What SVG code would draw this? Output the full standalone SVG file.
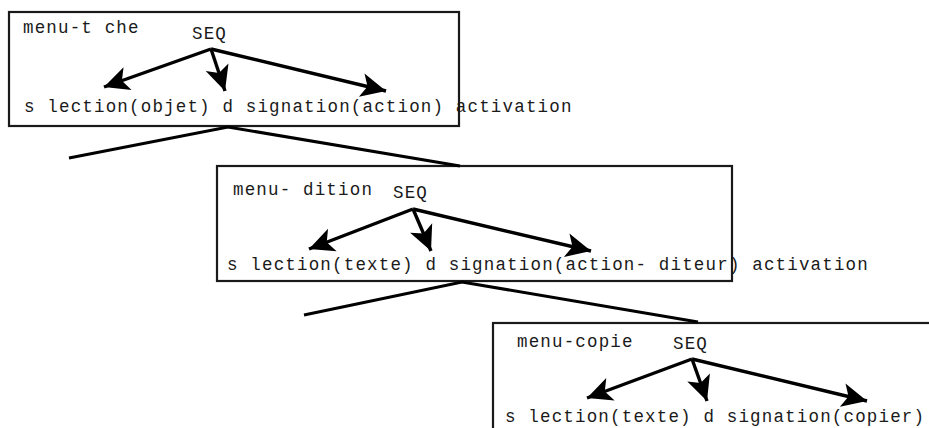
<svg xmlns="http://www.w3.org/2000/svg" width="929" height="428" viewBox="0 0 929 428">
  <defs>
    <marker id="head" markerUnits="userSpaceOnUse" markerWidth="32" markerHeight="32" viewBox="-28 -14 32 28" refX="0" refY="0" orient="auto">
      <path d="M0,0 L-25,-12 L-19,0 L-25,12 Z" fill="#000"/>
    </marker>
  </defs>
  <style>
    .box { fill: #fff; stroke: #1a1a1a; stroke-width: 2.2; }
    .t { font-family: "Liberation Mono", "Courier New", monospace; font-size: 17.5px; letter-spacing: 1.17px; fill: #1a1a1a; }
    .arr { stroke: #000; stroke-width: 3.4; fill: none; marker-end: url(#head); }
    .link { stroke: #000; stroke-width: 3; fill: none; }
  </style>
  <rect width="929" height="428" fill="#fff"/>

  <!-- menu-tâche -->
  <g id="menu-tache">
    <rect class="box" x="9" y="12" width="450" height="114"/>
    <text class="t" x="23" y="33">menu-t che</text>
    <text class="t" x="192" y="39">SEQ</text>
    <line class="arr" x1="211" y1="49" x2="104" y2="87"/>
    <line class="arr" x1="211" y1="49" x2="225" y2="91"/>
    <line class="arr" x1="211" y1="49" x2="386" y2="91"/>
    <text class="t" x="24" y="112">s lection(objet) d signation(action) activation</text>
  </g>

  <!-- menu-édition -->
  <g id="menu-edition">
    <rect class="box" x="217" y="166" width="515" height="115"/>
    <text class="t" x="233" y="195">menu- dition</text>
    <text class="t" x="393" y="198">SEQ</text>
    <line class="arr" x1="413" y1="209" x2="309" y2="249"/>
    <line class="arr" x1="413" y1="209" x2="431" y2="251"/>
    <line class="arr" x1="413" y1="209" x2="591" y2="251"/>
    <text class="t" x="227" y="270">s lection(texte) d signation(action- diteur) activation</text>
  </g>

  <!-- menu-copie -->
  <g id="menu-copie">
    <rect class="box" x="493" y="323" width="460" height="130"/>
    <text class="t" x="517" y="347">menu-copie</text>
    <text class="t" x="673" y="349">SEQ</text>
    <line class="arr" x1="692" y1="359" x2="587" y2="398"/>
    <line class="arr" x1="692" y1="359" x2="707" y2="401"/>
    <line class="arr" x1="692" y1="359" x2="867" y2="401"/>
    <text class="t" x="505" y="422">s lection(texte) d signation(copier)</text>
  </g>

  <!-- expansion links between levels -->
  <g id="connectors">
    <polyline class="link" points="69,158 228,127 460,166"/>
    <polyline class="link" points="304,315 462,282 698,322"/>
  </g>
</svg>
